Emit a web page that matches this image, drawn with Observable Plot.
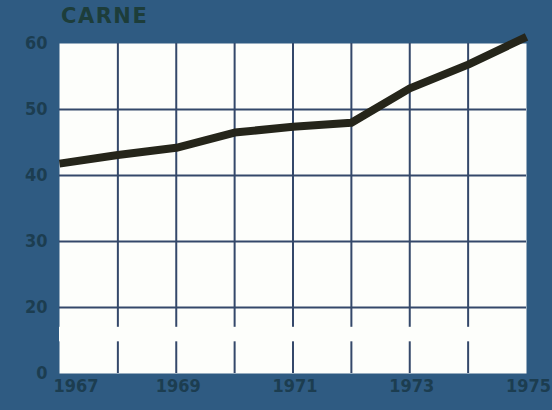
<!DOCTYPE html>
<html><head><meta charset="utf-8">
<script src="https://cdn.jsdelivr.net/npm/d3@7"></script>
<script src="https://cdn.jsdelivr.net/npm/@observablehq/plot@0.6"></script>
<style>
body{margin:0;background:#2f5b82;width:552px;height:410px;overflow:hidden;position:relative}
#title{position:absolute;left:61px;top:4px;font:bold 21px "DejaVu Sans";letter-spacing:1.5px;color:#1d3d3a}
#chart{position:absolute;left:0;top:0}
</style></head>
<body>
<div id="chart"></div>
<div id="title">CARNE</div>
<script>
const years = [1967, 1968, 1969, 1970, 1971, 1972, 1973, 1974, 1975];
const carne = [41.8, 43.1, 44.2, 46.5, 47.4, 48.0, 53.2, 56.8, 61.0];
const yTicks = [10, 20, 30, 40, 50, 60];
const yTickLabels = ["0", "20", "30", "40", "50", "60"];
const xTicks = [1967, 1969, 1971, 1973, 1975];
const breakBand = [14.8, 17.0];

const data = years.map((year, i) => ({year, value: carne[i]}));
const gridColor = "#34486a";
const paper = "#fdfefb";
const labelColor = "#1c3d50";

const chart = Plot.plot({
  width: 552, height: 410,
  marginTop: 43, marginBottom: 37, marginLeft: 59, marginRight: 26,
  style: {background: "transparent", color: labelColor, fontFamily: "'DejaVu Sans Condensed', 'DejaVu Sans', sans-serif", fontSize: "18px"},
  x: {domain: [years[0], years[years.length - 1]], axis: null},
  y: {domain: [yTicks[0], yTicks[yTicks.length - 1]], axis: null},
  marks: [
    Plot.frame({fill: paper, stroke: null}),
    Plot.ruleY(yTicks.slice(1, -1), {stroke: gridColor, strokeWidth: 2}),
    Plot.ruleX(years.slice(1, -1), {y1: yTicks[0], y2: yTicks[yTicks.length - 1], stroke: gridColor, strokeWidth: 2}),
    Plot.rect([breakBand], {x1: years[0], x2: years[years.length - 1], y1: d => d[0], y2: d => d[1], fill: paper, inset: 0}),
    Plot.line(data, {x: "year", y: "value", stroke: "#25251a", strokeWidth: 8, strokeLinecap: "butt", strokeLinejoin: "round", clip: false}),
    Plot.text(yTicks, {x: years[0], y: d => d, text: d => yTickLabels[yTicks.indexOf(d)], textAnchor: "end", dx: -12, fill: labelColor, fontWeight: "bold"}),
    Plot.text(xTicks.slice(0, 1), {x: d => d, frameAnchor: "bottom", dy: 18, text: d => String(d), textAnchor: "start", dx: -6, fill: labelColor, fontWeight: "bold"}),
    Plot.text(xTicks.slice(1), {x: d => d, frameAnchor: "bottom", dy: 18, text: d => String(d), dx: 2, fill: labelColor, fontWeight: "bold"})
  ]
});
document.getElementById("chart").appendChild(chart);
</script>
</body></html>
